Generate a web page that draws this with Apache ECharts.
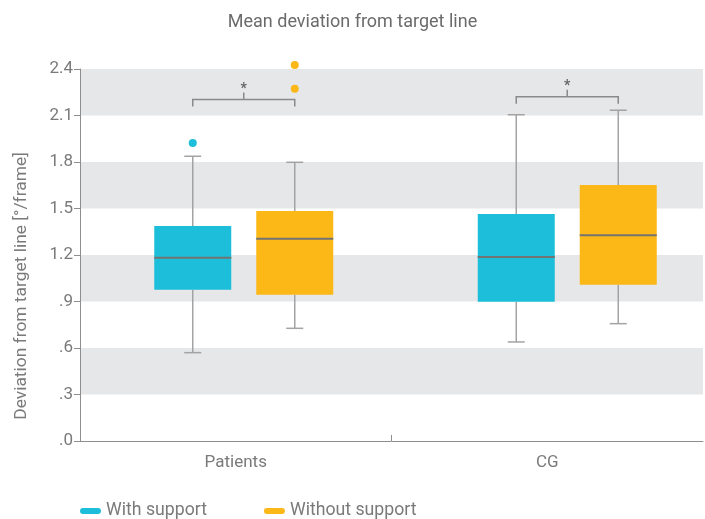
<!DOCTYPE html>
<html>
<head>
<meta charset="utf-8">
<title>Mean deviation from target line</title>
<script src="https://cdn.jsdelivr.net/npm/echarts@6/dist/echarts.min.js"></script>
<style>
  html, body { margin: 0; padding: 0; background: #fff; }
  #chart { width: 705px; height: 519px; }
</style>
</head>
<body>
<div id="chart"></div>
<script>
// Groups on the horizontal axis
const categories = ['Patients', 'CG'];

// Box statistics per group: [lower whisker, Q1, median, Q3, upper whisker]
const withSupport = [
  [0.57, 0.976, 1.183, 1.387, 1.837],
  [0.639, 0.899, 1.187, 1.465, 2.105]
];
const withoutSupport = [
  [0.727, 0.944, 1.305, 1.484, 1.798],
  [0.757, 1.008, 1.327, 1.652, 2.134]
];

// Outliers: [group index, value]
const withSupportOutliers = [[0, 1.923]];
const withoutSupportOutliers = [[0, 2.426], [0, 2.273]];

// Significance brackets: [group index, bracket level]
const significance = [[0, 2.203], [1, 2.221]];

// Value axis range
const yMin = 0;
const yMax = 2.4;
const yStep = 0.3;

// Layout and style constants
const FONT = 'Roboto, "Noto Sans", sans-serif';
const TEXT = '#7a7a7a';
const AXIS = '#8e8e8e';
const BAND = '#e6e7e9';
const COLOR_WITH = '#1dbed9';
const COLOR_WITHOUT = '#fbb817';
const WHISKER = '#a3a3a3';
const MEDIAN = '#737373';
const BOX_WIDTH = 77;
const CAP_WIDTH = 17;
const BOX_SPACING = 102;        // distance between the two box centres of a group
const GROUP_SHIFT = [8, 20];    // horizontal shift of each group from its band centre
const PILL = 'path://M3,0 H18 A3,3 0 0 1 18,6 H3 A3,3 0 0 1 3,0 Z';

function boxCenter(api, cat, side) {
  return api.coord([cat, 0])[0] + GROUP_SHIFT[cat] + side * BOX_SPACING / 2;
}

function boxRenderer(side, color) {
  return function (params, api) {
    const cat = api.value(0);
    const cx = boxCenter(api, cat, side);
    const y = (v) => api.coord([cat, v])[1];
    const lo = y(api.value(1));
    const q1 = y(api.value(2));
    const med = y(api.value(3));
    const q3 = y(api.value(4));
    const hi = y(api.value(5));
    const ws = { stroke: WHISKER, lineWidth: 1.5 };
    return {
      type: 'group',
      children: [
        { type: 'line', shape: { x1: cx, y1: hi, x2: cx, y2: q3 }, style: ws },
        { type: 'line', shape: { x1: cx, y1: q1, x2: cx, y2: lo }, style: ws },
        { type: 'line', shape: { x1: cx - CAP_WIDTH / 2, y1: hi, x2: cx + CAP_WIDTH / 2, y2: hi }, style: ws },
        { type: 'line', shape: { x1: cx - CAP_WIDTH / 2, y1: lo, x2: cx + CAP_WIDTH / 2, y2: lo }, style: ws },
        { type: 'rect', shape: { x: cx - BOX_WIDTH / 2, y: q3, width: BOX_WIDTH, height: q1 - q3 }, style: { fill: color } },
        { type: 'line', shape: { x1: cx - BOX_WIDTH / 2, y1: med, x2: cx + BOX_WIDTH / 2, y2: med }, style: { stroke: MEDIAN, lineWidth: 2 } }
      ]
    };
  };
}

function outlierRenderer(side, color) {
  return function (params, api) {
    const cat = api.value(0);
    const cx = boxCenter(api, cat, side);
    const cy = api.coord([cat, api.value(1)])[1];
    return { type: 'circle', shape: { cx: cx, cy: cy, r: 4 }, style: { fill: color } };
  };
}

function bracketRenderer(params, api) {
  const cat = api.value(0);
  const x1 = boxCenter(api, cat, -1);
  const x2 = boxCenter(api, cat, 1);
  const yl = api.coord([cat, api.value(1)])[1];
  const xm = (x1 + x2) / 2;
  const st = { stroke: '#8a8a8a', lineWidth: 1.5, fill: null };
  return {
    type: 'group',
    children: [
      { type: 'polyline', shape: { points: [[x1, yl + 7], [x1, yl], [x2, yl], [x2, yl + 7]] }, style: st },
      { type: 'line', shape: { x1: xm, y1: yl, x2: xm, y2: yl - 7 }, style: st },
      { type: 'text', x: xm, y: yl - 10, style: { text: '*', fill: '#666666', font: 'bold 14px ' + FONT, align: 'center', verticalAlign: 'middle' } }
    ]
  };
}

// Single tick between the two groups, standing up from the category axis
function dividerRenderer(params, api) {
  const cat = api.value(0);
  const x = api.coord([cat, 0])[0] + api.size([1, 0])[0] / 2;
  const y0 = api.coord([cat, yMin])[1];
  return { type: 'line', shape: { x1: x, y1: y0, x2: x, y2: y0 - 6 }, style: { stroke: AXIS, lineWidth: 1 } };
}

const chart = echarts.init(document.getElementById('chart'), null, { renderer: 'canvas' });

chart.setOption({
  animation: false,
  textStyle: { fontFamily: FONT },
  title: {
    text: 'Mean deviation from target line',
    left: 'center',
    top: 8,
    textStyle: { fontFamily: FONT, fontSize: 18, fontWeight: 'normal', color: '#6b6b6b' }
  },
  legend: {
    left: 80,
    top: 502,
    padding: 0,
    itemWidth: 21,
    itemHeight: 6,
    itemGap: 57,
    textStyle: { fontFamily: FONT, fontSize: 17.7, color: TEXT },
    data: [
      { name: 'With support', icon: PILL, itemStyle: { color: COLOR_WITH } },
      { name: 'Without support', icon: PILL, itemStyle: { color: COLOR_WITHOUT } }
    ]
  },
  grid: { left: 80, right: 2, top: 69, bottom: 78 },
  xAxis: {
    type: 'category',
    data: categories,
    boundaryGap: true,
    axisLine: { lineStyle: { color: AXIS, width: 1 } },
    axisTick: { show: false },
    axisLabel: { color: TEXT, fontSize: 17, fontFamily: FONT, margin: 13 },
    splitLine: { show: false }
  },
  yAxis: {
    type: 'value',
    min: yMin,
    max: yMax,
    interval: yStep,
    name: 'Deviation from target line [°/frame]',
    nameLocation: 'middle',
    nameGap: 50,
    nameTextStyle: { color: TEXT, fontSize: 17.4, fontFamily: FONT, padding: [0, 62, 0, 0] },
    axisLine: { show: true, lineStyle: { color: AXIS, width: 1 } },
    axisTick: { show: true, length: 6, lineStyle: { color: AXIS } },
    axisLabel: {
      color: TEXT, fontSize: 17, fontFamily: FONT, margin: 7,
      formatter: (v) => v.toFixed(1).replace(/^0/, '')
    },
    splitLine: { show: false },
    splitArea: { show: true, areaStyle: { color: ['#ffffff', BAND] } }
  },
  series: [
    {
      name: 'With support', type: 'custom', itemStyle: { color: COLOR_WITH },
      renderItem: boxRenderer(-1, COLOR_WITH),
      encode: { x: 0, y: [1, 2, 3, 4, 5] },
      data: withSupport.map((d, i) => [i].concat(d)), z: 3
    },
    {
      name: 'Without support', type: 'custom', itemStyle: { color: COLOR_WITHOUT },
      renderItem: boxRenderer(1, COLOR_WITHOUT),
      encode: { x: 0, y: [1, 2, 3, 4, 5] },
      data: withoutSupport.map((d, i) => [i].concat(d)), z: 3
    },
    {
      name: 'With support', type: 'custom',
      renderItem: outlierRenderer(-1, COLOR_WITH),
      encode: { x: 0, y: 1 }, data: withSupportOutliers, z: 4
    },
    {
      name: 'Without support', type: 'custom',
      renderItem: outlierRenderer(1, COLOR_WITHOUT),
      encode: { x: 0, y: 1 }, data: withoutSupportOutliers, z: 4
    },
    {
      name: 'Significance', type: 'custom',
      renderItem: bracketRenderer,
      encode: { x: 0, y: 1 }, data: significance, z: 4
    },
    {
      name: 'Group divider', type: 'custom',
      renderItem: dividerRenderer, silent: true,
      encode: { x: 0 }, data: [[0]], z: 4
    }
  ]
});
</script>
</body>
</html>
